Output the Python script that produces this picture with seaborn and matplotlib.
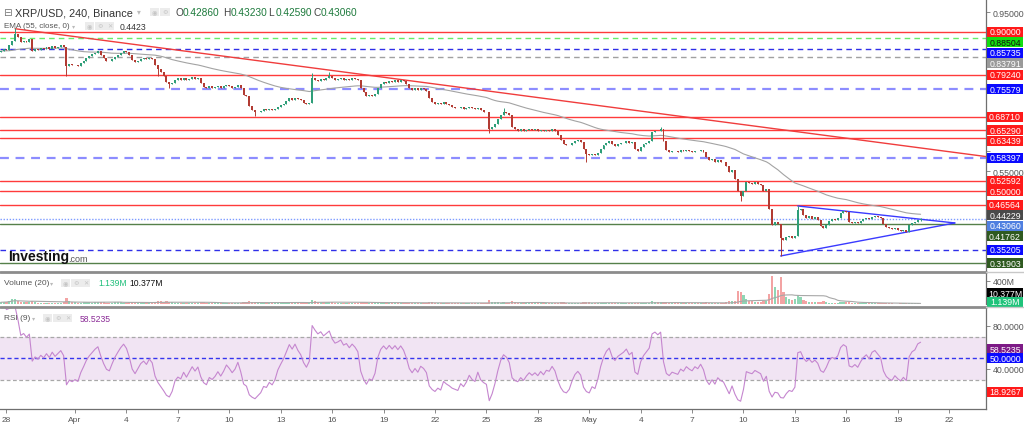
import numpy as np
import pandas as pd
import matplotlib
matplotlib.use("Agg")
import matplotlib.pyplot as plt
import matplotlib.transforms as mtrans
from matplotlib.lines import Line2D
from matplotlib.patches import Rectangle
import seaborn as sns

sns.set_style("white")
plt.rcParams['font.family'] = ['Liberation Sans', 'DejaVu Sans']

# XRP/USD 4h closes, first candle 2022-03-27 16:00
close = [
    0.852, 0.857,                                  # Mar 27
    0.855, 0.866, 0.878, 0.894, 0.886, 0.874,      # Mar 28
    0.878, 0.875, 0.881, 0.852, 0.858, 0.855,      # Mar 29
    0.860, 0.857, 0.862, 0.858, 0.864, 0.860,      # Mar 30
    0.863, 0.866, 0.862, 0.815, 0.820, 0.816,      # Mar 31
    0.818, 0.814, 0.822, 0.828, 0.835, 0.840,      # Apr 1
    0.844, 0.848, 0.851, 0.843, 0.835, 0.828,      # Apr 2
    0.826, 0.832, 0.838, 0.843, 0.848, 0.852,      # Apr 3
    0.849, 0.842, 0.830, 0.824, 0.828, 0.832,      # Apr 4
    0.834, 0.831, 0.835, 0.832, 0.818, 0.808,      # Apr 5
    0.800, 0.790, 0.775, 0.768, 0.772, 0.780,      # Apr 6
    0.783, 0.780, 0.785, 0.778, 0.782, 0.786,      # Apr 7
    0.781, 0.784, 0.772, 0.762, 0.758, 0.763,      # Apr 8
    0.760, 0.762, 0.765, 0.760, 0.763, 0.767,      # Apr 9
    0.764, 0.760, 0.762, 0.766, 0.758, 0.742,      # Apr 10
    0.738, 0.715, 0.705, 0.698, 0.700, 0.702,      # Apr 11
    0.706, 0.704, 0.707, 0.703, 0.706, 0.712,      # Apr 12
    0.716, 0.720, 0.726, 0.733, 0.730, 0.735,      # Apr 13
    0.731, 0.728, 0.722, 0.718, 0.722, 0.785,      # Apr 14
    0.780, 0.776, 0.782, 0.778, 0.784, 0.790,      # Apr 15
    0.783, 0.779, 0.781, 0.784, 0.780, 0.782,      # Apr 16
    0.779, 0.783, 0.781, 0.778, 0.760, 0.748,      # Apr 17
    0.738, 0.742, 0.740, 0.745, 0.760, 0.770,      # Apr 18
    0.775, 0.772, 0.777, 0.774, 0.778, 0.775,      # Apr 19
    0.779, 0.776, 0.770, 0.760, 0.755, 0.758,      # Apr 20
    0.754, 0.758, 0.756, 0.752, 0.733, 0.725,      # Apr 21
    0.720, 0.722, 0.718, 0.723, 0.719, 0.716,      # Apr 22
    0.712, 0.710, 0.708, 0.711, 0.707, 0.709,      # Apr 23
    0.712, 0.708, 0.706, 0.710, 0.703, 0.700,      # Apr 24
    0.698, 0.655, 0.660, 0.668, 0.680, 0.692,      # Apr 25
    0.700, 0.697, 0.690, 0.662, 0.655, 0.652,      # Apr 26
    0.656, 0.650, 0.654, 0.657, 0.653, 0.655,      # Apr 27
    0.651, 0.654, 0.650, 0.653, 0.652, 0.655,      # Apr 28
    0.651, 0.640, 0.628, 0.618, 0.615, 0.617,      # Apr 29
    0.622, 0.626, 0.628, 0.624, 0.605, 0.594,      # Apr 30
    0.590, 0.594, 0.590, 0.596, 0.606, 0.615,      # May 1
    0.622, 0.626, 0.618, 0.614, 0.618, 0.620,      # May 2
    0.622, 0.625, 0.621, 0.623, 0.605, 0.602,      # May 3
    0.612, 0.618, 0.622, 0.626, 0.648, 0.652,      # May 4
    0.650, 0.655, 0.625, 0.603, 0.598, 0.602,      # May 5
    0.600, 0.598, 0.603, 0.600, 0.604, 0.601,      # May 6
    0.599, 0.602, 0.600, 0.603, 0.598, 0.585,      # May 7
    0.578, 0.581, 0.574, 0.578, 0.574, 0.572,      # May 8
    0.562, 0.548, 0.553, 0.530, 0.500, 0.488,      # May 9
    0.500, 0.523, 0.520, 0.518, 0.522, 0.519,      # May 10
    0.516, 0.500, 0.505, 0.455, 0.415, 0.422,      # May 11
    0.418, 0.382, 0.378, 0.384, 0.388, 0.383,      # May 12
    0.388, 0.452, 0.455, 0.440, 0.432, 0.437,      # May 13
    0.430, 0.434, 0.428, 0.412, 0.408, 0.415,      # May 14
    0.425, 0.430, 0.428, 0.432, 0.445, 0.450,      # May 15
    0.448, 0.422, 0.420, 0.423, 0.419, 0.425,      # May 16
    0.430, 0.433, 0.429, 0.436, 0.438, 0.435,      # May 17
    0.432, 0.418, 0.410, 0.406, 0.404, 0.407,      # May 18
    0.403, 0.400, 0.402, 0.398, 0.415, 0.420,      # May 19
    0.422, 0.4286, 0.4306,                         # May 20
]
first_open = 0.850

# volume per candle, millions
volume = [
    30, 35,
    40, 60, 90, 85, 50, 40,
    35, 30, 28, 60, 35, 25,
    22, 20, 25, 18, 22, 20,
    25, 22, 30, 105, 45, 30,
    28, 22, 25, 30, 35, 30,
    25, 28, 30, 35, 28, 25,
    22, 25, 28, 30, 32, 25,
    22, 30, 35, 25, 20, 18,
    20, 18, 22, 20, 40, 55,
    50, 40, 45, 35, 30, 25,
    20, 18, 22, 20, 18, 20,
    18, 20, 30, 35, 25, 20,
    18, 15, 20, 18, 16, 15,
    16, 18, 15, 20, 25, 40,
    35, 50, 40, 35, 25, 22,
    20, 18, 22, 20, 25, 22,
    25, 28, 30, 25, 22, 20,
    20, 22, 25, 30, 28, 75,
    55, 40, 35, 30, 32, 40,
    30, 25, 22, 20, 22, 18,
    18, 20, 18, 22, 40, 35,
    30, 25, 22, 25, 35, 28,
    22, 20, 18, 20, 18, 16,
    15, 18, 20, 25, 22, 18,
    16, 18, 15, 20, 35, 30,
    22, 20, 18, 16, 18, 15,
    14, 12, 15, 13, 12, 14,
    15, 13, 14, 16, 18, 20,
    22, 65, 40, 30, 28, 25,
    30, 25, 22, 45, 30, 22,
    18, 16, 15, 18, 16, 15,
    14, 16, 15, 14, 13, 15,
    16, 25, 30, 28, 20, 18,
    16, 18, 15, 16, 30, 40,
    30, 22, 20, 18, 25, 22,
    20, 18, 22, 16, 15, 18,
    16, 15, 14, 16, 25, 22,
    18, 20, 18, 22, 45, 35,
    30, 38, 40, 35, 25, 20,
    18, 16, 15, 14, 16, 15,
    14, 15, 13, 14, 18, 30,
    25, 20, 18, 20, 16, 18,
    30, 45, 60, 55, 230, 210,
    150, 90, 60, 45, 40, 35,
    40, 60, 55, 180, 490, 300,
    250, 470, 200, 120, 90, 70,
    80, 150, 120, 70, 50, 40,
    35, 30, 28, 40, 45, 30,
    25, 22, 20, 18, 30, 35,
    28, 30, 22, 18, 15, 16,
    14, 12, 11, 13, 12, 10,
    9, 14, 12, 11, 9, 8,
    8, 9, 10, 9, 13, 14,
    11, 9, 1.139,
]

# wick extremes that stick out of the bodies
hi_time = ['2022-03-28 12:00', '2022-04-14 20:00', '2022-04-15 20:00', '2022-04-26 00:00',
           '2022-05-05 04:00', '2022-05-13 04:00', '2022-05-20 08:00']
hi_val = [0.909, 0.797, 0.800, 0.708, 0.660, 0.4626, 0.4323]
lo_time = ['2022-03-31 12:00', '2022-04-05 20:00', '2022-04-06 12:00', '2022-04-11 12:00',
           '2022-04-25 04:00', '2022-04-30 20:00', '2022-05-09 20:00', '2022-05-12 04:00',
           '2022-05-20 08:00']
lo_val = [0.790, 0.788, 0.760, 0.688, 0.645, 0.573, 0.474, 0.337, 0.4259]

# horizontal levels
level_price = [0.90000, 0.88504, 0.85735, 0.83791, 0.79240, 0.75579, 0.68710, 0.65290,
               0.63439, 0.58397, 0.52592, 0.50000, 0.46564, 0.41762, 0.35205, 0.31903]
level_kind = ['red', 'green', 'blue', 'gray', 'red', 'lblue', 'red', 'red',
              'red', 'lblue', 'red', 'red', 'red', 'dgreen', 'blue', 'dgreen']
ema_last = 0.44229
price_last = 0.43060

# drawn lines
trend_time = ['2022-03-28 12:00', '2022-05-25 04:00']
trend_price = [0.908, 0.581]
tri_upper_time = ['2022-05-13 04:00', '2022-05-22 08:00']
tri_upper_price = [0.4626, 0.4199]
tri_lower_time = ['2022-05-12 04:00', '2022-05-22 08:00']
tri_lower_price = [0.337, 0.4199]

tick_dates = ['2022-03-28', '2022-04-01', '2022-04-04', '2022-04-07', '2022-04-10', '2022-04-13',
              '2022-04-16', '2022-04-19', '2022-04-22', '2022-04-25', '2022-04-28', '2022-05-01',
              '2022-05-04', '2022-05-07', '2022-05-10', '2022-05-13', '2022-05-16', '2022-05-19',
              '2022-05-22']
tick_labels = ['28', 'Apr', '4', '7', '10', '13', '16', '19', '22', '25', '28', 'May',
               '4', '7', '10', '13', '16', '19', '22']

t0 = pd.Timestamp('2022-03-28')


def to_x(ts):
    return np.asarray((pd.to_datetime(ts) - t0) / pd.Timedelta(days=1), dtype=float)


# candle table
t = pd.date_range('2022-03-27 16:00', periods=len(close), freq='4h')
df = pd.DataFrame({'x': to_x(t), 'close': close, 'volume': volume})
df['open'] = df['close'].shift(1).fillna(first_open)
df['high'] = df[['open', 'close']].max(axis=1)
df['low'] = df[['open', 'close']].min(axis=1)
for ts, v in zip(hi_time, hi_val):
    df.loc[np.asarray(t == pd.Timestamp(ts)), 'high'] = v
for ts, v in zip(lo_time, lo_val):
    df.loc[np.asarray(t == pd.Timestamp(ts)), 'low'] = v
df['up'] = df['close'] >= df['open']

df['ema'] = df['close'].ewm(span=55, adjust=False).mean()
delta = df['close'].diff()
gain = delta.clip(lower=0).ewm(alpha=1 / 9, adjust=False).mean()
loss = (-delta.clip(upper=0)).ewm(alpha=1 / 9, adjust=False).mean()
df['rsi'] = 100 - 100 / (1 + gain / loss)
df['vol_ma'] = df['volume'].rolling(20, min_periods=1).mean()

# figure, pixel layout
W, H = 1024, 427
AXW = 986
fig = plt.figure(figsize=(W / 100, H / 100), dpi=100, facecolor='white')


def pbox(x0, y0, x1, y1):
    return [x0 / W, 1 - y1 / H, (x1 - x0) / W, (y1 - y0) / H]


ax = fig.add_axes(pbox(0, 0, AXW, 272))
axv = fig.add_axes(pbox(0, 274, AXW, 305))
axr = fig.add_axes(pbox(0, 309, AXW, 410))

XMIN, XMAX = -0.379, 57.15
for a in (ax, axv, axr):
    a.set_xlim(XMIN, XMAX)
    for s in ('top', 'left', 'bottom'):
        a.spines[s].set_visible(False)
    a.spines['right'].set_color('#6f6f6f')
    a.spines['right'].set_linewidth(0.9)
    a.yaxis.tick_right()
    a.tick_params(axis='y', length=3, width=0.6, color='#777777', labelsize=6.3,
                  labelcolor='#555555', pad=2, left=False, right=True)


def vbox(a, yval, txt, fc, tc='white', h_px=10.0):
    """coloured value box on the right price scale"""
    y0, y1 = a.get_ylim()
    h = h_px * (y1 - y0) / (a.bbox.height)
    trb = mtrans.blended_transform_factory(a.transAxes, a.transData)
    a.add_patch(Rectangle((1 + 1.5 / AXW, yval - h / 2), 35.5 / AXW, h, transform=trb,
                          facecolor=fc, edgecolor='none', clip_on=False, zorder=10))
    a.text(1 + 19 / AXW, yval, txt, transform=trb, fontsize=6.3, color=tc, va='center',
           ha='center', clip_on=False, zorder=11)


def free_labels(a, ticks, boxes, fmt, min_px=9.0):
    """tick labels, blanked where a value box covers them"""
    y0, y1 = a.get_ylim()
    ppu = a.bbox.height / (y1 - y0)
    out = []
    for tv in ticks:
        near = min(abs(tv - b) for b in boxes) * ppu
        out.append(fmt.format(tv) if near >= min_px else '')
    return out


UP, DOWN = '#2e9e78', '#b23b33'
ccols = np.where(df['up'], UP, DOWN)

# ---- main price panel ----
YMIN, YMAX = 0.2992, 0.9827
ax.set_ylim(YMIN, YMAX)

lvl_style = {
    'red': ('#ff3b3b', '-', 1.0),
    'green': ('#66ee66', (0, (4, 3)), 1.0),
    'blue': ('#2f2fe8', (0, (4, 3)), 1.0),
    'gray': ('#a0a0a0', (0, (4, 3)), 1.0),
    'lblue': ('#8c8cff', (0, (4, 3)), 1.6),
    'dgreen': ('#55804a', '-', 1.0),
}
for p, k in zip(level_price, level_kind):
    c, ls, lw = lvl_style[k]
    ax.axhline(p, color=c, ls=ls, lw=lw, zorder=1)
ax.axhline(price_last, color='#7d9bff', ls=(0, (1, 1.2)), lw=1.0, zorder=1)

ax.plot(to_x(trend_time), trend_price, color='#f03c3c', lw=1.0, zorder=1.5)
ax.plot(to_x(tri_upper_time), tri_upper_price, color='#3a3aff', lw=1.0, zorder=1.5)
ax.plot(to_x(tri_lower_time), tri_lower_price, color='#3a3aff', lw=1.0, zorder=1.5)

sns.lineplot(data=df, x='x', y='ema', ax=ax, color='#a3a3a3', lw=0.8, zorder=2)

ax.vlines(df['x'], df['low'], df['high'], colors=ccols, lw=0.7, zorder=3)
body_bot = df[['open', 'close']].min(axis=1)
body_h = (df['close'] - df['open']).abs().clip(lower=0.0016)
ax.bar(df['x'], body_h, bottom=body_bot, width=0.115, color=ccols, linewidth=0, zorder=3)
ax.set_xticks([])
ax.set_xlabel('')
ax.set_ylabel('')

# right-side value boxes, pushed apart so they do not overlap
box_val = level_price + [ema_last, price_last]
box_col = [{'red': '#ff1a1a', 'green': '#11dd11', 'blue': '#0a0aff', 'gray': '#9a9a9a',
            'lblue': '#0a0aff', 'dgreen': '#2f5a20'}[k] for k in level_kind] + ['#4a4a4a', '#4f7fe0']
box_txt = ['#111111' if c == '#11dd11' else 'white' for c in box_col]
gap = 10.5 * (YMAX - YMIN) / 272
order = np.argsort(box_val)[::-1]
pos = np.array(box_val, dtype=float)
last = None
for i in order:
    if last is not None and pos[i] > last - gap:
        pos[i] = last - gap
    last = pos[i]
for v, p, c, tc in zip(box_val, pos, box_col, box_txt):
    vbox(ax, p, '{:.5f}'.format(v), c, tc)

ticks = np.arange(0.35, 0.951, 0.05)
ax.set_yticks(ticks)
ax.set_yticklabels(free_labels(ax, ticks, pos, '{:.5f}'))

# ---- volume panel ----
vcols = np.where(df['up'], '#8fd6b4', '#f3a3a3')
axv.bar(df['x'], df['volume'], width=0.13, color=vcols, linewidth=0)
sns.lineplot(data=df, x='x', y='vol_ma', ax=axv, color='#a8a8a8', lw=0.8)
axv.set_ylim(0, 539)
axv.set_xticks([])
axv.set_yticks([400])
axv.set_yticklabels(['400M'])
axv.set_xlabel('')
axv.set_ylabel('')
vbox(axv, 191, '10.377M', '#000000')
vbox(axv, 38, '1.139M', '#1fc37a')

# ---- RSI panel ----
axr.set_ylim(2.8, 96.7)
axr.axhspan(30, 70, color='#f1e4f3', lw=0, zorder=0)
axr.axhline(70, color='#a8a8a8', ls=(0, (3, 2)), lw=0.9)
axr.axhline(30, color='#a8a8a8', ls=(0, (3, 2)), lw=0.9)
axr.axhline(50, color='#3535ee', ls=(0, (3, 2)), lw=1.0)
sns.lineplot(data=df, x='x', y='rsi', ax=axr, color='#c586cf', lw=0.8)
rsi_boxes = [58.5235, 50.0, 18.9267]
rsi_ticks = [20, 40, 60, 80]
axr.set_yticks(rsi_ticks)
axr.set_yticklabels(free_labels(axr, rsi_ticks, rsi_boxes, '{:.4f}'))
axr.set_xticks(to_x(tick_dates))
axr.set_xticklabels(tick_labels)
axr.tick_params(axis='x', length=3, width=0.6, color='#777777', labelsize=6.0,
                labelcolor='#555555', pad=2, bottom=True)
axr.spines['bottom'].set_visible(True)
axr.spines['bottom'].set_color('#6f6f6f')
axr.spines['bottom'].set_linewidth(0.9)
axr.set_xlabel('')
axr.set_ylabel('')
for v, c in zip(rsi_boxes, ['#7d1a86', '#0a0aff', '#ff1a1a']):
    vbox(axr, v, '{:.4f}'.format(v), c)

# panel separators
for py in (273, 307.5):
    fig.add_artist(Line2D([0, AXW / W], [1 - py / H] * 2, color='#8c8c8c', lw=2.0))
    fig.add_artist(Line2D([AXW / W, 1], [1 - py / H] * 2, color='#c8c8c8', lw=1.0))


# ---- header texts ----
def ftext(px, py, s, **kw):
    fig.text(px / W, 1 - py / H, s, va='center', ha='left', **kw)


def icons(px, py, glyphs):
    for i, g in enumerate(glyphs):
        ftext(px + i * 10, py, g, fontsize=4.5, color='#c4c4c4',
              bbox=dict(boxstyle='square,pad=0.3', fc='#ececec', ec='none'))


ftext(3, 13, '⊟', fontsize=7.5, color='#777777')
ftext(15, 13, 'XRP/USD, 240, Binance', fontsize=7.8, color='#333333')
ftext(137, 13, '▾', fontsize=5.5, color='#bbbbbb')
icons(152, 13, ['◉', '⚙'])
for lx, letter, val in [(175, 'O', '0.42860'), (223, 'H', '0.43230'),
                        (268, 'L', '0.42590'), (313, 'C', '0.43060')]:
    ftext(lx, 13, letter, fontsize=7.3, color='#444444')
    ftext(lx + 7.5, 13, val, fontsize=7.3, color='#1d7a3c')

ftext(4, 27, 'EMA (55, close, 0)', fontsize=5.8, color='#555555')
ftext(72, 27, '▾', fontsize=4.5, color='#bbbbbb')
icons(87, 27, ['◉', '⚙', '✕'])
ftext(120, 27, '0.4423', fontsize=6.2, color='#333333')

ftext(4, 284, 'Volume (20)', fontsize=6.0, color='#555555')
ftext(50, 284, '▾', fontsize=4.5, color='#bbbbbb')
icons(63, 284, ['◉', '⚙', '✕'])
ftext(98, 284, '1.139M', fontsize=6.2, color='#1fbf7a')
ftext(129, 284, '10.377M', fontsize=6.2, color='#111111')

ftext(4, 319, 'RSI (9)', fontsize=6.0, color='#555555')
ftext(32, 319, '▾', fontsize=4.5, color='#bbbbbb')
icons(45, 319, ['◉', '⚙', '✕'])
ftext(80, 319, '58.5235', fontsize=6.2, color='#8a2a96')

ftext(8, 257, 'Investing', fontsize=10, color='#111111', fontweight='bold')
ftext(68, 259, '.com', fontsize=6.5, color='#555555')

fig.savefig('out.png', dpi=100, facecolor='white')
